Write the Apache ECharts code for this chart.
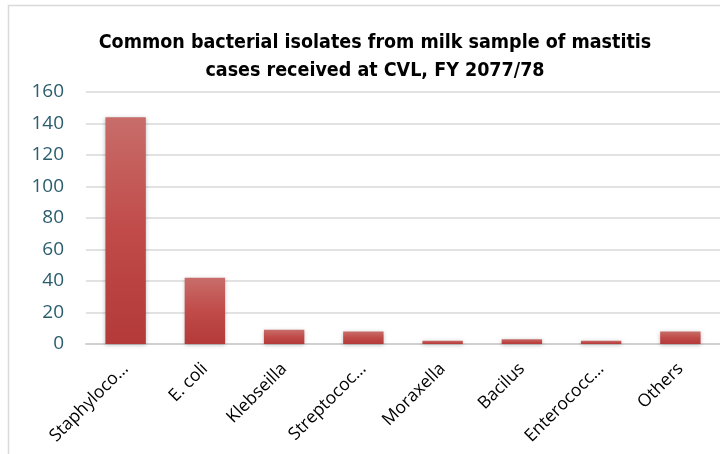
<!DOCTYPE html>
<html>
<head>
<meta charset="utf-8">
<script src="https://cdn.jsdelivr.net/npm/echarts@6/dist/echarts.min.js"></script>
<style>
  html, body { margin: 0; padding: 0; background: #fff; }
  #chart { width: 720px; height: 454px; }
</style>
</head>
<body>
<div id="chart"></div>
<script>
// categories and counts
const categories = ['Staphylococcus', 'E. coli', 'Klebseilla', 'Streptococcus', 'Moraxella', 'Bacilus', 'Enterococcus', 'Others'];
const shownLabels = ['Staphyloco…', 'E. coli', 'Klebseilla', 'Streptococ…', 'Moraxella', 'Bacilus', 'Enterococc…', 'Others'];
const isolates = [144, 42, 9, 8, 2, 3, 2, 8];
const yTicks = [0, 20, 40, 60, 80, 100, 120, 140, 160];

const chart = echarts.init(document.getElementById('chart'));

const option = {
    animation: false,
    title: {
        text: 'Common bacterial isolates from milk sample of mastitis\ncases received at CVL, FY 2077/78',
        left: 370,
        top: 24,
        textAlign: 'center',
        textStyle: {
            fontFamily: 'DejaVu Sans Condensed',
            fontWeight: 'bold',
            fontSize: 19.5,
            lineHeight: 28,
            color: '#000'
        }
    },
    graphic: [{
        type: 'rect',
        shape: { x: 8.5, y: 5.5, width: 740, height: 470 },
        style: { fill: 'none', stroke: '#d9d9d9', lineWidth: 1.5 },
        silent: true
    }],
    grid: { left: 86, top: 92, width: 640, height: 252 },
    xAxis: {
        type: 'category',
        data: categories,
        axisLine: { lineStyle: { color: '#d0d0d0', width: 2 } },
        axisTick: { show: false },
        axisLabel: {
            interval: 0,
            rotate: 45,
            margin: 22,
            fontSize: 17.5,
            fontFamily: 'Open Sans',
            color: '#000',
            formatter: (v, i) => shownLabels[i]
        }
    },
    yAxis: {
        type: 'value',
        min: yTicks[0],
        max: yTicks[yTicks.length - 1],
        interval: 20,
        axisLine: { show: false },
        axisTick: { show: false },
        splitLine: { lineStyle: { color: '#d9d9d9', width: 1.5 } },
        axisLabel: {
            margin: 22,
            fontSize: 19,
            fontFamily: 'Open Sans',
            color: '#2b5d6e'
        }
    },
    series: [{
        type: 'bar',
        data: isolates,
        barWidth: '51%',
        itemStyle: {
            color: new echarts.graphic.LinearGradient(0, 0, 0, 1, [
                { offset: 0, color: '#c86d6a' },
                { offset: 0.5, color: '#c04b49' },
                { offset: 1, color: '#b33a38' }
            ]),
            shadowColor: 'rgba(0,0,0,0.25)',
            shadowBlur: 4,
            shadowOffsetY: 1
        }
    }]
};

chart.setOption(option);
</script>
</body>
</html>
